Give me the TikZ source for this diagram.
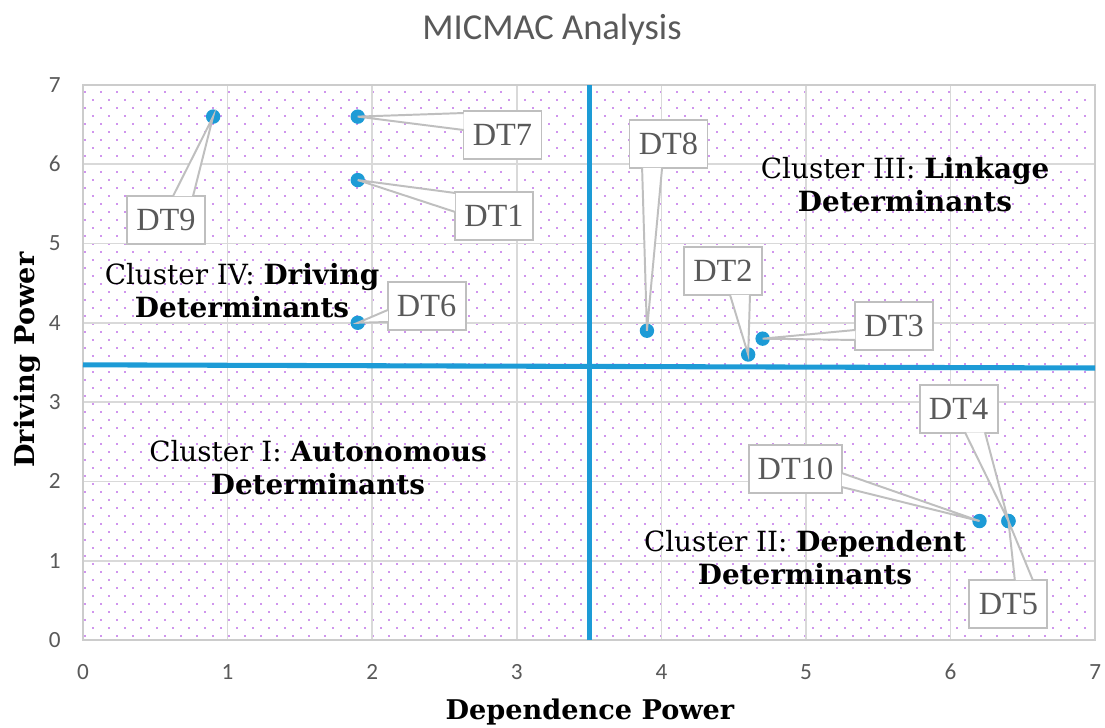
\documentclass[tikz,border=0pt]{standalone}
\usepackage{fontspec}
\setmainfont{Liberation Serif}
\newfontfamily\calibfont{Carlito}
\newfontfamily\bookfont{DejaVu Serif}
\usepackage{tikz}
\usetikzlibrary{calc}

\definecolor{quadblue}{RGB}{29,155,214}
\definecolor{gridgray}{RGB}{217,217,217}
\definecolor{boxgray}{RGB}{191,191,191}
\definecolor{txtgray}{RGB}{89,89,89}
\definecolor{dotpurple}{RGB}{160,40,220}

\tikzset{
  gridline/.style={draw=gridgray, line width=1.2pt},
  quadline/.style={draw=quadblue, line width=3.6pt},
  marker/.style={circle, fill=quadblue, inner sep=0pt, minimum size=0.36cm},
  dtbox/.style={draw=boxgray, line width=1.4pt, fill=white, text=txtgray,
    font=\fontsize{23}{26}\selectfont, minimum width=1.95cm, minimum height=1.2cm, inner xsep=0.22cm},
  wedge/.style={draw=boxgray, line width=1.4pt, fill=white},
  cluster/.style={align=center, font=\bookfont\fontsize{19.8}{23.5}\selectfont},
  ticklab/.style={text=txtgray, font=\calibfont\fontsize{16.5}{18}\selectfont},
  axistitle/.style={font=\bookfont\bfseries\fontsize{19.3}{23}\selectfont}
}

\begin{document}
\begin{tikzpicture}[x=3.615cm,y=1.9825cm]
	\useasboundingbox (-2.075cm,-2.175cm) rectangle (25.55cm,16cm);

	%plot area: staggered dot fill
	\foreach \j [evaluate=\j as \xoff using {mod(\j,2)*0.2}] in {0,...,68} {
		\fill[dotpurple] \foreach \i in {0,...,62} {(0.05cm+\i*0.4cm+\xoff cm,0.1cm+\j*0.2cm) circle (0.024cm)};
	}
	\foreach \k in {1,...,6} {
		\draw[gridline] (\k,0) -- (\k,7);	%vertical grid
		\draw[gridline] (0,\k) -- (7,\k);	%horizontal grid
	}
	\draw[gridline,line width=1.6pt,draw=boxgray!80] (0,0) rectangle (7,7);

	%tick labels
	\foreach \k in {0,...,7} {
		\node[ticklab,anchor=east] (ylab\k) at (-0.12,\k) {\k};
		\node[ticklab] (xlab\k) at (\k,-0.4) {\k};
	}

	%titles
	\node[text=txtgray,font=\calibfont\fontsize{26}{30}\selectfont] (title) at (3.243,7.69) {MICMAC Analysis};
	\node[axistitle] (xtitle) at (3.506,-0.908) {Dependence Power};
	\node[axistitle,rotate=90] (ytitle) at (-0.387,3.53) {Driving Power};

	%quadrant lines
	\draw[quadline] (0,3.47) -- (7,3.43);		%horizontal
	\draw[quadline] (3.5,0) -- (3.5,7);		%vertical

	%cluster labels
	\node[cluster] (clIII) at (5.685,5.738) {Cluster III: \textbf{Linkage}\\\textbf{Determinants}};
	\node[cluster] (clIV) at (1.10,4.40) {Cluster IV: \textbf{Driving}\\\textbf{Determinants}};
	\node[cluster] (clI) at (1.625,2.169) {Cluster I: \textbf{Autonomous}\\\textbf{Determinants}};
	\node[cluster] (clII) at (4.993,1.034) {Cluster II: \textbf{Dependent}\\\textbf{Determinants}};

	%data points
	\node[marker] (p1) at (1.9,5.8) {};
	\node[marker] (p2) at (4.6,3.6) {};
	\node[marker] (p3) at (4.7,3.8) {};
	\node[marker] (p4) at (6.4,1.5) {};
	\node[marker] (p5) at (6.4,1.5) {};
	\node[marker] (p6) at (1.9,4.0) {};
	\node[marker] (p7) at (1.9,6.6) {};
	\node[marker] (p8) at (3.9,3.9) {};
	\node[marker] (p9) at (0.9,6.6) {};
	\node[marker] (p10) at (6.2,1.5) {};

	%data labels
	\node[dtbox] (dt1) at (2.842,5.347) {DT1};
	\node[dtbox] (dt2) at (4.426,4.653) {DT2};
	\node[dtbox] (dt3) at (5.609,3.960) {DT3};
	\node[dtbox] (dt4) at (6.055,2.919) {DT4};
	\node[dtbox] (dt5) at (6.400,0.454) {DT5};
	\node[dtbox] (dt6) at (2.376,4.212) {DT6};
	\node[dtbox] (dt7) at (2.901,6.368) {DT7};
	\node[dtbox] (dt8) at (4.049,6.255) {DT8};
	\node[dtbox] (dt9) at (0.574,5.296) {DT9};
	\node[dtbox] (dt10) at (4.927,2.156) {DT10};

	%callout pointers
	\filldraw[wedge] ($(dt1.west)+(0.03cm,0.575cm)$) -- (p1.center) -- ($(dt1.west)+(0.03cm,0.1cm)$);
	\filldraw[wedge] ($(dt2.south)+(0.175cm,0.03cm)$) -- (p2.center) -- ($(dt2.south)+(0.675cm,0.03cm)$);
	\filldraw[wedge] ($(dt3.west)+(0.03cm,-0.1cm)$) -- (p3.center) -- ($(dt3.west)+(0.03cm,-0.35cm)$);
	\filldraw[wedge] ($(dt4.south)+(0.16cm,0.03cm)$) -- (p4.center) -- ($(dt4.south)+(0.66cm,0.03cm)$);
	\filldraw[wedge] ($(dt5.north)+(0.16cm,-0.03cm)$) -- (p5.center) -- ($(dt5.north)+(0.61cm,-0.03cm)$);
	\filldraw[wedge] ($(dt6.west)+(0.03cm,-0.1cm)$) -- (p6.center) -- ($(dt6.west)+(0.03cm,-0.4cm)$);
	\filldraw[wedge] ($(dt7.west)+(0.03cm,0.55cm)$) -- (p7.center) -- ($(dt7.west)+(0.03cm,0.125cm)$);
	\filldraw[wedge] ($(dt8.south)+(-0.66cm,0.03cm)$) -- (p8.center) -- ($(dt8.south)+(-0.16cm,0.03cm)$);
	\filldraw[wedge] ($(dt9.north)+(0.175cm,-0.03cm)$) -- (p9.center) -- ($(dt9.north)+(0.675cm,-0.03cm)$);
	\filldraw[wedge] ($(dt10.east)+(-0.03cm,-0.1cm)$) -- (p10.center) -- ($(dt10.east)+(-0.03cm,-0.45cm)$);
\end{tikzpicture}
\end{document}
